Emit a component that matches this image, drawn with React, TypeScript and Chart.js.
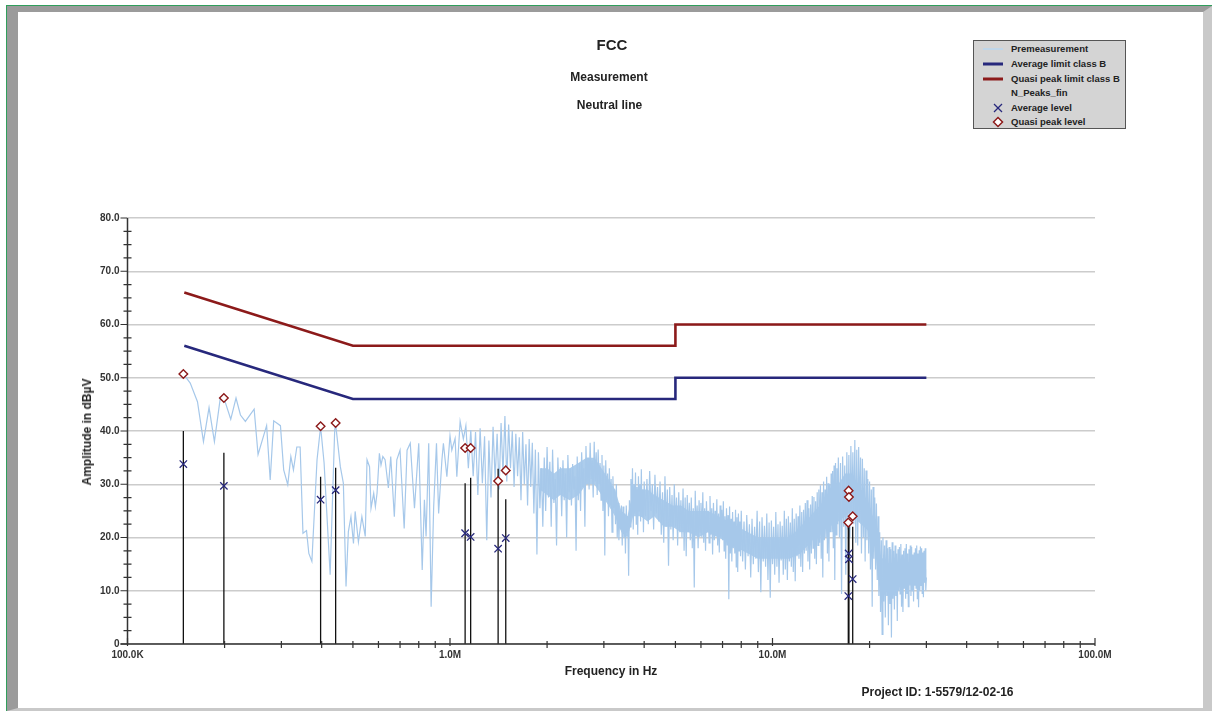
import React, { useEffect, useRef } from "react";
import { Chart, registerables } from "chart.js";

Chart.register(...registerables);

const FONT = '"Liberation Sans", Arial, Helvetica, sans-serif';

// Premeasurement trace: [frequency in kHz, level in dBµV]
const premeasurement: [number, number][] = [
  [150, 50.5], [156.5, 49.0], [164.8, 45.5], [172, 38.0], [179, 44.4], [186, 38.0], [194, 46.2], [200, 45.8],
  [209, 42.2], [217, 46.2], [224, 43.0], [232, 41.8], [247, 44.1], [254, 35.6], [270, 41.0], [277, 30.8],
  [284, 41.9], [298, 41.0], [305, 32.7], [314, 29.9], [321, 35.2], [327, 32.7], [335, 37.0], [343, 37.0],
  [350, 20.8], [359, 21.3], [365, 17.0], [373, 15.5], [387, 34.6], [397, 40.8], [407, 34.0], [425, 13.0],
  [439, 40.2], [442, 41.3], [457, 33.3], [467, 30.2], [476, 10.8], [484, 21.1], [493, 23.9], [502, 18.9],
  [508, 24.9], [520, 19.2], [533, 23.9], [546, 20.2], [553, 34.6], [563, 33.3], [569, 25.5], [580, 28.3],
  [587, 25.8], [594, 28.3], [604, 35.8], [611, 33.6], [619, 35.2], [629, 34.6], [644, 29.3], [655, 35.2],
  [672, 23.9], [684, 34.6], [700, 36.4], [721, 21.7], [736, 36.4], [753, 37.7], [776, 25.5], [800, 37.7],
  [820, 13.9], [833, 27.1], [843, 20.2], [859, 37.7], [874, 7.0], [890, 25.8], [908, 37.7], [922, 24.5],
  [944, 34.6], [954, 37.7], [978, 31.4], [1000, 39.1], [1013, 36.4], [1037, 38.6], [1050, 31.4], [1075, 41.8],
  // 1.1 – 2 MHz
  [1100, 38.5], [1120, 41.0], [1140, 33.0], [1160, 40.2], [1180, 31.5], [1200, 39.8], [1220, 28.0], [1240, 40.5],
  [1260, 30.2], [1280, 39.0], [1300, 19.5], [1320, 38.2], [1340, 27.5], [1360, 40.8], [1380, 31.0], [1400, 39.5],
  [1420, 29.0], [1440, 41.5], [1460, 32.0], [1480, 42.8], [1500, 30.5], [1520, 41.2], [1540, 33.0], [1560, 40.0],
  [1580, 29.5], [1600, 39.5], [1620, 31.5], [1640, 38.8], [1660, 27.0], [1680, 39.8], [1700, 30.0], [1720, 37.5],
  [1740, 26.0], [1760, 38.5], [1780, 29.5], [1800, 37.8], [1820, 24.5], [1840, 36.5], [1860, 16.8], [1880, 36.0],
  [1900, 25.5], [1920, 33.0], [1940, 22.0], [1960, 35.0], [1980, 25.0], [2000, 37.0],
  // 2 – 4 MHz
  [2020, 27.5], [2040, 34.2], [2060, 22.0], [2080, 36.5], [2100, 26.5], [2120, 31.0], [2140, 18.5], [2160, 35.0], [2180, 28.0], [2200, 33.2],
  [2220, 24.0], [2240, 34.5], [2260, 27.0], [2280, 32.0], [2300, 20.0], [2320, 35.5], [2340, 28.5], [2360, 33.0], [2380, 26.0], [2400, 33.8],
  [2420, 29.0], [2440, 31.5], [2460, 17.5], [2480, 35.2], [2500, 27.0], [2520, 34.0], [2540, 25.0], [2560, 36.0], [2580, 29.5], [2600, 33.0],
  [2620, 22.0], [2640, 37.2], [2660, 30.0], [2680, 35.0], [2700, 29.0], [2720, 37.8], [2740, 31.0], [2760, 34.5], [2780, 27.5], [2800, 38.0],
  [2820, 30.5], [2840, 36.0], [2860, 28.0], [2880, 36.5], [2900, 30.0], [2920, 34.0], [2940, 27.0], [2960, 35.5], [2980, 25.0], [3000, 33.5],
  [3020, 16.6], [3040, 34.5], [3060, 27.0], [3080, 32.0], [3100, 24.0], [3120, 33.0], [3140, 26.0], [3160, 31.0], [3180, 21.0], [3200, 31.5],
  [3220, 25.5], [3240, 29.0], [3260, 22.5], [3280, 30.0], [3300, 20.0], [3320, 26.5], [3340, 19.5], [3360, 25.0], [3380, 21.5], [3400, 26.0],
  [3420, 18.5], [3440, 25.8], [3460, 20.0], [3480, 24.5], [3500, 17.0], [3520, 26.0], [3540, 21.0], [3560, 24.0], [3580, 12.8], [3600, 27.0],
  [3620, 22.0], [3640, 31.0], [3660, 24.0], [3680, 33.0], [3700, 21.5], [3720, 30.0], [3740, 24.5], [3760, 32.2], [3780, 22.5], [3800, 29.5],
  [3820, 20.5], [3840, 31.5], [3860, 25.0], [3880, 30.0], [3900, 23.0], [3920, 32.8], [3940, 24.0], [3960, 29.0], [3980, 21.0], [4000, 30.5],
  // 4 – 8 MHz
  [4040, 24.0], [4080, 31.0], [4120, 22.5], [4160, 32.5], [4200, 25.0], [4240, 30.0], [4280, 21.5], [4320, 31.8], [4360, 24.5], [4400, 29.5],
  [4440, 23.0], [4480, 30.5], [4520, 20.5], [4560, 28.5], [4600, 19.0], [4640, 31.5], [4680, 22.0], [4720, 29.0], [4760, 14.7], [4800, 29.5],
  [4840, 21.5], [4880, 28.0], [4920, 19.5], [4960, 30.0], [5000, 22.0], [5040, 27.5], [5080, 18.5], [5120, 28.5], [5160, 21.0], [5200, 27.0],
  [5240, 20.0], [5280, 29.2], [5320, 17.5], [5360, 27.5], [5400, 16.5], [5440, 28.0], [5480, 21.0], [5520, 26.5], [5560, 19.5], [5600, 27.5],
  [5640, 18.0], [5680, 25.5], [5720, 10.6], [5760, 28.8], [5800, 20.5], [5840, 26.0], [5880, 18.0], [5920, 27.0], [5960, 21.0], [6000, 26.5],
  [6040, 20.0], [6080, 28.5], [6120, 19.0], [6160, 25.5], [6200, 17.5], [6240, 26.8], [6280, 21.0], [6320, 25.0], [6360, 19.0], [6400, 27.8],
  [6440, 20.5], [6480, 25.5], [6520, 16.8], [6560, 26.5], [6600, 19.5], [6640, 25.0], [6680, 20.2], [6720, 27.2], [6760, 18.5], [6800, 24.5],
  [6840, 17.2], [6880, 26.0], [6920, 20.0], [6960, 25.2], [7000, 19.5], [7040, 26.8], [7080, 17.5], [7120, 24.0], [7160, 16.0], [7200, 25.5],
  [7240, 18.5], [7280, 24.2], [7320, 8.4], [7360, 25.8], [7400, 17.0], [7440, 23.5], [7480, 15.5], [7520, 24.8], [7560, 18.0], [7600, 23.0],
  [7640, 17.0], [7680, 25.2], [7720, 14.5], [7760, 23.8], [7800, 13.5], [7840, 24.5], [7880, 17.5], [7920, 23.0], [7960, 16.5], [8000, 25.0],
  // 8 – 16 MHz
  [8080, 15.5], [8160, 23.0], [8240, 14.0], [8320, 24.2], [8400, 16.5], [8480, 22.5], [8560, 12.5], [8640, 23.5], [8720, 15.0], [8800, 22.0],
  [8880, 16.0], [8960, 25.0], [9040, 13.5], [9120, 23.0], [9200, 9.7], [9280, 23.8], [9360, 15.5], [9440, 22.2], [9520, 14.5], [9600, 24.5],
  [9680, 12.0], [9760, 22.8], [9840, 8.7], [9920, 23.2], [10000, 15.0], [10080, 22.0], [10160, 13.0], [10240, 24.8], [10320, 14.5], [10400, 22.5],
  [10480, 11.5], [10560, 23.0], [10640, 15.7], [10720, 22.2], [10800, 13.0], [10880, 25.0], [10960, 14.0], [11040, 23.5], [11120, 12.0], [11200, 24.0],
  [11280, 15.5], [11360, 22.8], [11440, 14.5], [11520, 25.5], [11600, 13.5], [11680, 23.5], [11760, 11.8], [11840, 24.5], [11920, 16.5], [12000, 24.0],
  [12080, 16.0], [12160, 26.0], [12240, 14.5], [12320, 24.8], [12400, 13.5], [12480, 25.2], [12560, 17.0], [12640, 26.5], [12720, 17.5], [12800, 27.0],
  [12880, 15.5], [12960, 25.5], [13040, 14.0], [13120, 26.2], [13200, 17.0], [13280, 27.8], [13360, 18.0], [13440, 27.6], [13520, 16.0], [13600, 26.8],
  [13680, 15.0], [13760, 28.5], [13840, 18.5], [13920, 29.0], [14000, 19.0], [14080, 29.8], [14160, 16.0], [14240, 28.5], [14320, 12.5], [14400, 30.5],
  [14480, 19.5], [14560, 29.0], [14640, 20.0], [14720, 31.4], [14800, 17.0], [14880, 30.2], [14960, 15.5], [15040, 30.0], [15120, 21.0], [15200, 32.0],
  [15280, 21.0], [15360, 32.5], [15440, 18.0], [15520, 33.5], [15600, 12.0], [15680, 34.0], [15760, 20.5], [15840, 33.0], [15920, 22.5], [16000, 35.0],
  // 16 – 30 MHz
  [16125, 20.0], [16250, 34.0], [16375, 9.4], [16500, 35.2], [16625, 22.0], [16750, 33.5], [16875, 13.0], [17000, 36.0], [17125, 21.5], [17250, 35.5],
  [17375, 20.0], [17500, 37.2], [17625, 24.0], [17750, 36.0], [17875, 22.5], [18000, 38.3], [18125, 19.0], [18250, 36.5], [18375, 18.5], [18500, 37.0],
  [18625, 23.0], [18750, 35.0], [18875, 17.0], [19000, 34.8], [19125, 20.0], [19250, 33.0], [19375, 15.5], [19500, 32.6], [19625, 19.5], [19750, 31.0],
  [19875, 17.0], [20000, 30.5], [20125, 14.0], [20250, 29.0], [20375, 7.0], [20500, 29.5], [20625, 16.0], [20750, 27.5], [20875, 14.0], [21000, 26.4],
  [21125, 12.0], [21250, 24.0], [21375, 9.0], [21500, 21.0], [21625, 6.0], [21750, 19.5], [21875, 1.8], [22000, 20.0], [22125, 8.0], [22250, 18.5],
  [22375, 5.0], [22500, 19.5], [22625, 9.0], [22750, 18.0], [22875, 3.5], [23000, 18.2], [23125, 7.5], [23250, 17.8], [23375, 1.2], [23500, 19.1],
  [23625, 8.5], [23750, 17.5], [23875, 6.5], [24000, 18.5], [24125, 9.0], [24250, 17.0], [24375, 4.3], [24500, 17.8], [24625, 10.0], [24750, 18.2],
  [24875, 9.4], [25000, 18.8], [25125, 7.0], [25250, 16.8], [25375, 6.0], [25500, 17.5], [25625, 10.5], [25750, 18.0], [25875, 8.5], [26000, 18.8],
  [26125, 9.5], [26250, 17.0], [26375, 7.0], [26500, 17.8], [26625, 11.3], [26750, 18.5], [26875, 9.0], [27000, 18.2], [27125, 10.0], [27250, 16.8],
  [27375, 8.0], [27500, 17.2], [27625, 11.0], [27750, 18.0], [27875, 10.5], [28000, 18.5], [28125, 8.5], [28250, 17.0], [28375, 6.9], [28500, 17.6],
  [28625, 10.0], [28750, 18.3], [28875, 11.0], [29000, 18.0], [29125, 9.5], [29250, 17.2], [29375, 8.8], [29500, 17.5], [29625, 11.5], [29750, 18.0],
  [29875, 10.0], [30000, 12.5],
];

// Dense core of the premeasurement sweep (where the trace looks like a solid band)
const bandFreqKHz = [1900, 2000, 2100, 2200, 2350, 2500, 2650, 2800, 2950, 3100, 3250, 3400, 3550, 3700, 3900, 4100, 4300, 4600, 4900, 5200, 5500, 5900, 6300, 6800, 7300, 7800, 8400, 9000, 9700, 10500, 11300, 12200, 13100, 14000, 15000, 16000, 16800, 17600, 18400, 19200, 20000, 20700, 21300, 22000, 23000, 24000, 25000, 26000, 27000, 28000, 29000, 30000];
const bandLow = [29, 28, 27, 28, 27, 28, 30, 30, 28, 26, 24, 21, 20, 24, 24, 23, 24, 22, 22, 21, 21, 20, 21, 20, 19, 18, 17, 16, 16, 16, 16, 17, 19, 21, 22, 23, 24, 25, 23, 22, 21, 19, 12, 10, 10, 10, 11, 11, 11, 11, 11, 12];
const bandHigh = [33, 33, 32, 33, 33, 34, 35, 35, 33, 31, 29, 25, 24, 29, 29, 29, 28, 27, 26, 26, 25, 25, 25, 24, 23, 22, 21, 20, 20, 20, 20, 22, 24, 26, 28, 30, 32, 32, 30, 28, 26, 23, 17, 16, 15, 15, 15, 15, 15, 15, 15, 14];

// Limit lines
const limitFreqKHz = [150, 500, 5000, 5000, 30000];
const qpLimitB = [66, 56, 56, 60, 60];
const avLimitB = [56, 46, 46, 50, 50];

// Final peaks
const peakFreqKHz = [149, 199, 397, 442, 1114, 1159, 1410, 1489, 17180, 17220, 17260, 17730];
const peakStick = [40.0, 35.9, 31.4, 33.1, 30.2, 31.2, 32.9, 27.2, 22.2, 22.0, 22.2, 22.0];
const qpLevel = [50.7, 46.2, 40.9, 41.5, 36.8, 36.8, 30.6, 32.6, 22.8, 28.8, 27.6, 24.0];
const avLevel = [33.8, 29.7, 27.1, 28.9, 20.8, 20.1, 17.9, 19.9, 9.0, 17.0, 15.9, 12.2];

// Axes
const yTickValues = [0, 10, 20, 30, 40, 50, 60, 70, 80];
const xDecades = [1e5, 1e6, 1e7, 1e8];
const xDecadeLabels = ["100.0K", "1.0M", "10.0M", "100.0M"];

const C_PREM = "#a6c8ea";
const C_AV = "#27287c";
const C_QP = "#8c1a1a";

const axisPlugin = {
  id: "emiAxes",
  afterDraw(chart: any) {
    const { ctx, chartArea, scales } = chart;
    const { left, right, top, bottom } = chartArea;
    const y = scales.y;
    const x = scales.x;
    ctx.save();
    ctx.strokeStyle = "#333333";
    ctx.lineWidth = 1.5;
    ctx.beginPath();
    ctx.moveTo(left, top);
    ctx.lineTo(left, bottom);
    ctx.moveTo(left - 7, bottom);
    ctx.lineTo(right, bottom);
    ctx.stroke();
    ctx.lineWidth = 1.2;
    ctx.beginPath();
    for (let v = 0; v <= 80.001; v += 2.5) {
      const py = y.getPixelForValue(v);
      if (Math.abs(v % 10) < 0.001) {
        ctx.moveTo(left - 7, py);
        ctx.lineTo(left, py);
      } else {
        ctx.moveTo(left - 4, py);
        ctx.lineTo(left + 4, py);
      }
    }
    for (let k = 5; k <= 8; k++) {
      const base = Math.pow(10, k);
      const px = x.getPixelForValue(base);
      ctx.moveTo(px, bottom - 6);
      ctx.lineTo(px, bottom + 2);
      if (k < 8) {
        for (let d = 2; d <= 9; d++) {
          const pm = x.getPixelForValue(base * d);
          ctx.moveTo(pm, bottom - 3);
          ctx.lineTo(pm, bottom + 4);
        }
      }
    }
    ctx.stroke();
    ctx.restore();
  },
};

function Txt(props: { x: number; y: number; size: number; rotate?: boolean; children: any }) {
  return (
    <div
      style={{
        position: "absolute",
        left: props.x,
        top: props.y,
        transform: `translate(-50%, -50%)${props.rotate ? " rotate(-90deg)" : ""}`,
        fontSize: props.size,
        fontWeight: "bold",
        lineHeight: 1,
        whiteSpace: "nowrap",
        color: "#222",
        fontFamily: FONT,
      }}
    >
      {props.children}
    </div>
  );
}

const legendRows = [
  { label: "Premeasurement", y: 49, kind: "line", color: "#b9d7f1", w: 1.5 },
  { label: "Average limit class B", y: 63.7, kind: "line", color: C_AV, w: 3 },
  { label: "Quasi peak limit class B", y: 78.5, kind: "line", color: C_QP, w: 3 },
  { label: "N_Peaks_fin", y: 93.2, kind: "none", color: "#000", w: 0 },
  { label: "Average level", y: 107.8, kind: "cross", color: C_AV, w: 1.3 },
  { label: "Quasi peak level", y: 121.5, kind: "diamond", color: C_QP, w: 1.5 },
];

function LegendSymbol({ kind, color, w }: { kind: string; color: string; w: number }) {
  if (kind === "line") {
    return (
      <svg width="22" height="8" style={{ position: "absolute", left: 8, top: -4 }}>
        <line x1="1" y1="4" x2="21" y2="4" stroke={color} strokeWidth={w} />
      </svg>
    );
  }
  if (kind === "cross") {
    return (
      <svg width="12" height="12" style={{ position: "absolute", left: 18, top: -6 }}>
        <line x1="2" y1="2" x2="10" y2="10" stroke={color} strokeWidth={w} />
        <line x1="10" y1="2" x2="2" y2="10" stroke={color} strokeWidth={w} />
      </svg>
    );
  }
  if (kind === "diamond") {
    return (
      <svg width="12" height="12" style={{ position: "absolute", left: 18, top: -6 }}>
        <polygon points="6,1.5 10.5,6 6,10.5 1.5,6" fill="#fff" stroke={color} strokeWidth={w} />
      </svg>
    );
  }
  return null;
}

export default function App() {
  const ref = useRef<HTMLCanvasElement>(null);

  useEffect(() => {
    const premData = premeasurement.map(([f, v]) => ({ x: f * 1000, y: v }));
    const bandLowData = bandFreqKHz.map((f, i) => ({ x: f * 1000, y: bandLow[i] }));
    const bandHighData = bandFreqKHz.map((f, i) => ({ x: f * 1000, y: bandHigh[i] }));
    const qpLimData = limitFreqKHz.map((f, i) => ({ x: f * 1000, y: qpLimitB[i] }));
    const avLimData = limitFreqKHz.map((f, i) => ({ x: f * 1000, y: avLimitB[i] }));
    const stickData: any[] = [];
    peakFreqKHz.forEach((f, i) => {
      stickData.push({ x: f * 1000, y: 0 }, { x: f * 1000, y: peakStick[i] }, { x: f * 1000, y: null });
    });
    const qpData = peakFreqKHz.map((f, i) => ({ x: f * 1000, y: qpLevel[i] }));
    const avData = peakFreqKHz.map((f, i) => ({ x: f * 1000, y: avLevel[i] }));

    const tickFont = { family: FONT, size: 10, weight: "bold" as const };

    const chart = new Chart(ref.current as HTMLCanvasElement, {
      type: "line",
      data: {
        datasets: [
          { label: "band low", data: bandLowData, borderWidth: 0, borderColor: "rgba(0,0,0,0)", pointRadius: 0, fill: false, order: 8 },
          { label: "band high", data: bandHighData, borderWidth: 0, borderColor: "rgba(0,0,0,0)", backgroundColor: "#adcdec", pointRadius: 0, fill: 0, order: 7 },
          { label: "Premeasurement", data: premData, borderColor: C_PREM, borderWidth: 1.2, pointRadius: 0, fill: false, order: 6 },
          { label: "N_Peaks_fin", data: stickData, borderColor: "#111111", borderWidth: 1.3, pointRadius: 0, spanGaps: false, fill: false, order: 5 },
          { label: "Average limit class B", data: avLimData, borderColor: C_AV, borderWidth: 2.6, pointRadius: 0, fill: false, order: 4 },
          { label: "Quasi peak limit class B", data: qpLimData, borderColor: C_QP, borderWidth: 2.6, pointRadius: 0, fill: false, order: 3 },
          {
            label: "Average level",
            data: avData,
            showLine: false,
            pointStyle: "crossRot",
            pointRadius: 5.2,
            borderColor: C_AV,
            pointBorderColor: C_AV,
            pointBorderWidth: 1.3,
            order: 2,
          },
          {
            label: "Quasi peak level",
            data: qpData,
            showLine: false,
            pointStyle: "rectRot",
            pointRadius: 4.3,
            borderColor: C_QP,
            pointBorderColor: C_QP,
            pointBackgroundColor: "#ffffff",
            pointBorderWidth: 1.4,
            order: 1,
          },
        ] as any,
      },
      options: {
        responsive: false,
        maintainAspectRatio: false,
        animation: false,
        events: [],
        layout: { padding: { left: 0, right: 117, top: 218, bottom: 0 } },
        elements: { line: { tension: 0 }, point: { radius: 0 } },
        plugins: {
          legend: { display: false },
          title: { display: false },
          tooltip: { enabled: false },
          filler: { propagate: false },
        },
        scales: {
          x: {
            type: "logarithmic",
            min: 1e5,
            max: 1e8,
            afterBuildTicks: (s: any) => {
              s.ticks = xDecades.map((v) => ({ value: v }));
            },
            afterFit: (s: any) => {
              s.height = 67;
            },
            grid: { display: false, drawTicks: false },
            border: { display: false },
            ticks: {
              autoSkip: false,
              maxRotation: 0,
              padding: 5,
              color: "#333333",
              font: tickFont,
              callback: (v: any) => {
                const i = xDecades.indexOf(Number(v));
                return i >= 0 ? xDecadeLabels[i] : "";
              },
            },
          },
          y: {
            type: "linear",
            min: 0,
            max: 80,
            afterBuildTicks: (s: any) => {
              s.ticks = yTickValues.map((v) => ({ value: v }));
            },
            afterFit: (s: any) => {
              s.width = 127.5;
            },
            grid: { color: "#cccccc", lineWidth: 1.5, drawTicks: false },
            border: { display: false },
            ticks: {
              padding: 8,
              color: "#333333",
              font: tickFont,
              callback: (v: any) => (Number(v) === 0 ? "0" : Number(v).toFixed(1)),
            },
          },
        },
      } as any,
      plugins: [axisPlugin],
    });
    return () => chart.destroy();
  }, []);

  return (
    <div
      style={{
        position: "fixed",
        left: 0,
        top: 0,
        width: 1212,
        height: 711,
        background: "#ffffff",
        overflow: "hidden",
        fontFamily: FONT,
      }}
    >
      <div
        style={{
          position: "absolute",
          left: 6,
          top: 5,
          width: 1206,
          height: 706,
          boxSizing: "border-box",
          borderTop: "1px solid #2f9e5b",
          borderLeft: "1px solid #2f9e5b",
        }}
      />
      <div
        style={{
          position: "absolute",
          left: 7,
          top: 6,
          width: 1205,
          height: 705,
          boxSizing: "border-box",
          borderStyle: "solid",
          borderTopWidth: 6,
          borderLeftWidth: 11,
          borderRightWidth: 9,
          borderBottomWidth: 3,
          borderTopColor: "#9b9b9b",
          borderLeftColor: "#9b9b9b",
          borderRightColor: "#c9c9c9",
          borderBottomColor: "#c9c9c9",
        }}
      />
      <canvas
        ref={ref}
        width={1212}
        height={711}
        style={{ position: "absolute", left: 0, top: 0, width: 1212, height: 711 }}
      />
      <Txt x={612} y={44} size={15}>FCC</Txt>
      <Txt x={609} y={77} size={12}>Measurement</Txt>
      <Txt x={609.5} y={105} size={12}>Neutral line</Txt>
      <Txt x={611} y={671} size={12}>Frequency in Hz</Txt>
      <Txt x={86.7} y={431.5} size={12} rotate>Amplitude in dBµV</Txt>
      <Txt x={937.5} y={692} size={12}>Project ID: 1-5579/12-02-16</Txt>
      <div
        style={{
          position: "absolute",
          left: 973,
          top: 40,
          width: 153,
          height: 89,
          boxSizing: "border-box",
          background: "#d4d4d4",
          border: "1px solid #555555",
        }}
      >
        {legendRows.map((r) => (
          <div key={r.label} style={{ position: "absolute", left: 0, top: r.y - 40 - 1, width: 0, height: 0 }}>
            <LegendSymbol kind={r.kind} color={r.color} w={r.w} />
            <div
              style={{
                position: "absolute",
                left: 37,
                top: 0,
                transform: "translateY(-50%)",
                fontSize: 9.5,
                fontWeight: "bold",
                lineHeight: 1,
                whiteSpace: "nowrap",
                color: "#222",
                fontFamily: FONT,
              }}
            >
              {r.label}
            </div>
          </div>
        ))}
      </div>
    </div>
  );
}
